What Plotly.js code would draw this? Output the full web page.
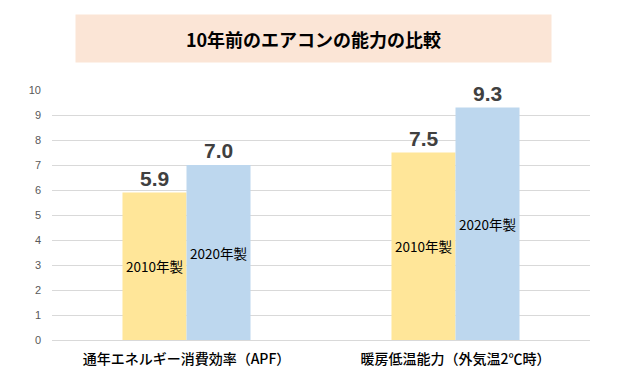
<!DOCTYPE html>
<html><head><meta charset="utf-8">
<script src="https://cdn.plot.ly/plotly-3.0.1.min.js"></script>
<style>html,body{margin:0;padding:0;background:#fff}#c{width:626px;height:381px}</style>
</head><body><div id="c"></div>
<script>
const categories = ['通年エネルギー消費効率（APF）', '暖房低温能力（外気温2℃時）'];
const seriesNames = ['2010年製', '2020年製'];
const values2010 = [5.9, 7.5];
const values2020 = [7.0, 9.3];
const yTicks = [0,1,2,3,4,5,6,7,8,9,10];
const chartTitle = '10年前のエアコンの能力の比較';

const font = '"Noto Sans CJK JP", "Noto Sans", sans-serif';
const colors = ['#FFE699', '#BDD7EE'];
const series = [values2010, values2020];

const traces = series.map((vals, i) => ({
  type: 'bar', x: categories, y: vals, name: seriesNames[i],
  marker: {color: colors[i], line: {width: 0}},
  text: vals.map(() => seriesNames[i]),
  textposition: 'inside', insidetextanchor: 'middle',
  textfont: {family: font, size: 13.5, color: '#000'},
  textangle: 0, hoverinfo: 'none'
}));

const annotations = [];
series.forEach((vals, i) => {
  vals.forEach((v, j) => {
    annotations.push({
      x: categories[j], y: v, xref: 'x', yref: 'y',
      xshift: i === 0 ? -32 : 32, yanchor: 'bottom', yshift: 1,
      text: '<b>' + v.toFixed(1) + '</b>', showarrow: false,
      font: {family: 'Liberation Sans, Arial, sans-serif', size: 21, color: '#404040'}
    });
  });
});
annotations.push({
  xref: 'paper', yref: 'paper', x: (313.5-52)/538, y: (340-38.5)/250,
  xanchor: 'center', yanchor: 'middle', showarrow: false,
  width: 473, height: 45, bgcolor: '#FBE5D6',
  text: '<b>' + chartTitle + '</b>',
  font: {family: font, size: 18, color: '#000'}
});

Plotly.newPlot('c', traces, {
  width: 626, height: 381,
  margin: {l: 52, r: 36, t: 90, b: 41},
  paper_bgcolor: '#fff', plot_bgcolor: '#fff',
  showlegend: false, barmode: 'group', bargap: 0.524, bargroupgap: 0,
  xaxis: {type: 'category', showgrid: false, showline: false, ticks: '',
    ticklabelstandoff: 9,
    tickfont: {family: font, size: 14, weight: 500, color: '#000'}},
  yaxis: {range: [0, 10], tickvals: yTicks, showgrid: true, gridcolor: '#D9D9D9',
    gridwidth: 1, zeroline: true, zerolinecolor: '#D9D9D9', zerolinewidth: 1,
    ticks: '', ticklen: 0, ticklabelstandoff: 10,
    tickfont: {family: 'Liberation Sans, Arial, sans-serif', size: 11, color: '#595959'},
    automargin: false},
  annotations: annotations
}, {displayModeBar: false, staticPlot: true});
</script></body></html>
